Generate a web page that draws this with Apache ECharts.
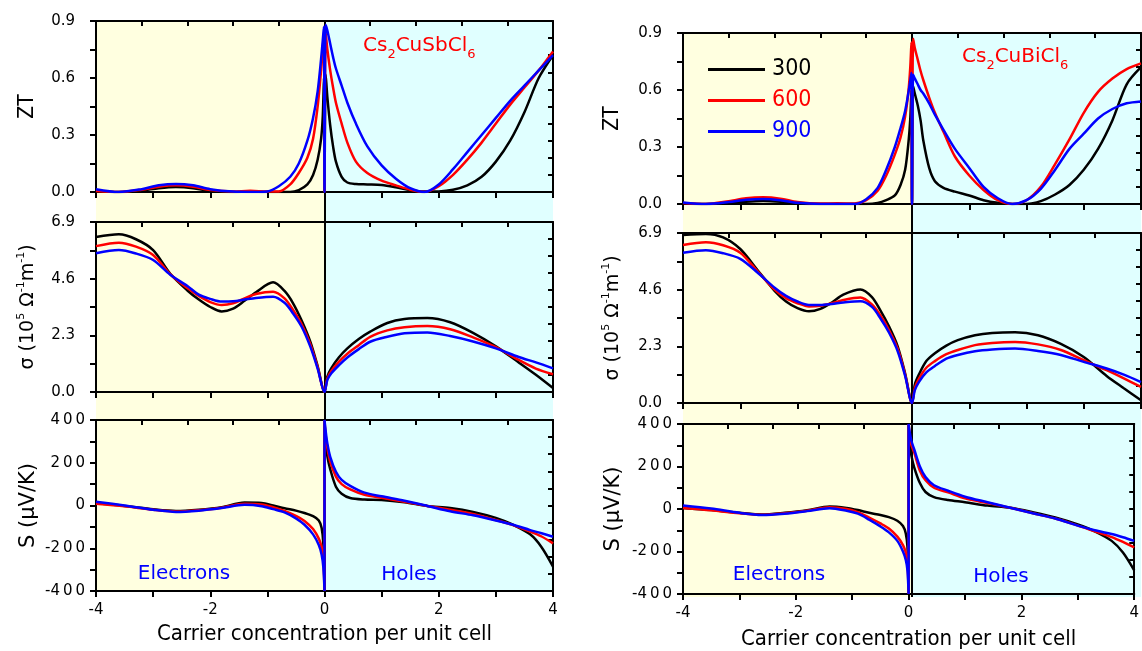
<!DOCTYPE html>
<html>
<head>
<meta charset="utf-8">
<title>Cs2CuSbCl6 / Cs2CuBiCl6</title>
<script src="https://cdn.jsdelivr.net/npm/echarts@6/dist/echarts.min.js"></script>
<style>
  html, body { margin: 0; padding: 0; background: #fff; }
  #chart { width: 1142px; height: 651px; }
</style>
</head>
<body>
<div id="chart"></div>
<script>
// ---- values ----
const temps = ['300', '600', '900'];
const colors = ['#000000', '#ff0000', '#0000ff'];

// ZT
const xZT = [-4, -3.6, -3.2, -2.9, -2.6, -2.3, -2.0, -1.6, -1.3, -1.0, -0.8, -0.6, -0.45, -0.3, -0.2, -0.12, -0.06, -0.03, -0.01,
  0, 0.02, 0.05, 0.1, 0.15, 0.2, 0.3, 0.4, 0.55, 0.75, 1.0, 1.25, 1.5, 1.75, 2.0, 2.25, 2.5, 2.75, 3.0, 3.25, 3.5, 3.75, 4.0];
const ztSb300 = [0.005, 0, 0.008, 0.02, 0.026, 0.02, 0.005, 0, 0.003, 0, 0, 0, 0.01, 0.04, 0.09, 0.17, 0.28, 0.4, 0.6,
  0, 0.62, 0.5, 0.35, 0.24, 0.16, 0.08, 0.05, 0.042, 0.04, 0.037, 0.025, 0.01, 0.002, 0.003, 0.012, 0.035, 0.08, 0.16, 0.27, 0.42, 0.6, 0.72];
const ztSb600 = [0.005, 0, 0.012, 0.028, 0.035, 0.028, 0.01, 0.003, 0.006, 0.003, 0.003, 0.04, 0.1, 0.18, 0.28, 0.45, 0.64, 0.76, 0.83,
  0, 0.84, 0.75, 0.64, 0.55, 0.47, 0.36, 0.26, 0.16, 0.1, 0.06, 0.035, 0.012, 0, 0.03, 0.09, 0.17, 0.26, 0.36, 0.46, 0.55, 0.64, 0.74];
const ztSb900 = [0.015, 0, 0.015, 0.035, 0.042, 0.035, 0.015, 0.002, 0, 0.003, 0.03, 0.08, 0.15, 0.27, 0.39, 0.53, 0.7, 0.8, 0.87,
  0, 0.88, 0.85, 0.78, 0.71, 0.65, 0.56, 0.47, 0.36, 0.24, 0.14, 0.07, 0.02, 0, 0.04, 0.12, 0.21, 0.3, 0.39, 0.48, 0.56, 0.64, 0.72];
const ztBi300 = [0.003, 0, 0.004, 0.012, 0.016, 0.012, 0.003, 0, 0, 0, 0, 0.005, 0.02, 0.045, 0.1, 0.18, 0.33, 0.45, 0.6,
  0, 0.62, 0.58, 0.52, 0.44, 0.33, 0.19, 0.12, 0.085, 0.065, 0.045, 0.02, 0.006, 0, 0, 0.015, 0.05, 0.1, 0.18, 0.29, 0.44, 0.63, 0.72];
const ztBi600 = [0.005, 0, 0.015, 0.03, 0.035, 0.028, 0.01, 0.002, 0.004, 0.002, 0.02, 0.07, 0.15, 0.26, 0.35, 0.46, 0.6, 0.72, 0.85,
  0, 0.87, 0.82, 0.76, 0.7, 0.65, 0.56, 0.48, 0.38, 0.25, 0.15, 0.074, 0.02, 0, 0.02, 0.09, 0.21, 0.34, 0.48, 0.59, 0.66, 0.71, 0.74];
const ztBi900 = [0.008, 0, 0.01, 0.022, 0.026, 0.02, 0.006, 0, 0, 0, 0.025, 0.085, 0.18, 0.3, 0.4, 0.49, 0.59, 0.65, 0.69,
  0, 0.68, 0.66, 0.63, 0.6, 0.58, 0.53, 0.47, 0.39, 0.29, 0.19, 0.09, 0.03, 0, 0.02, 0.08, 0.18, 0.29, 0.37, 0.45, 0.5, 0.53, 0.54];

// sigma (10^5 / ohm m)
const xSig = [-4, -3.6, -3.3, -3.0, -2.7, -2.4, -2.2, -2.0, -1.8, -1.6, -1.4, -1.2, -0.9, -0.7, -0.55, -0.4, -0.25, -0.12,
  0, 0.05, 0.12, 0.25, 0.4, 0.6, 0.8, 1.1, 1.4, 1.8, 2.2, 2.6, 3.0, 3.4, 3.7, 4.0];
const sigSb300 = [6.29, 6.4, 6.2, 5.76, 4.8, 4.12, 3.75, 3.45, 3.27, 3.38, 3.7, 4.05, 4.45, 4.1, 3.6, 2.9, 2.05, 1.05,
  0, 0.63, 0.97, 1.4, 1.77, 2.15, 2.45, 2.8, 2.96, 3.0, 2.83, 2.4, 1.85, 1.2, 0.7, 0.16];
const sigSb600 = [5.92, 6.06, 5.9, 5.56, 4.78, 4.22, 3.9, 3.65, 3.53, 3.6, 3.8, 3.98, 4.07, 3.8, 3.33, 2.75, 1.95, 1.0,
  0, 0.55, 0.85, 1.22, 1.55, 1.9, 2.24, 2.5, 2.63, 2.68, 2.55, 2.22, 1.82, 1.3, 0.95, 0.72];
const sigSb900 = [5.63, 5.76, 5.62, 5.36, 4.76, 4.3, 3.95, 3.78, 3.67, 3.68, 3.75, 3.82, 3.87, 3.62, 3.19, 2.65, 1.85, 0.95,
  0, 0.49, 0.76, 1.08, 1.4, 1.74, 2.04, 2.24, 2.38, 2.42, 2.27, 2.05, 1.77, 1.42, 1.2, 0.96];
const sigBi300 = [6.82, 6.86, 6.72, 6.25, 5.4, 4.55, 4.12, 3.85, 3.72, 3.82, 4.08, 4.4, 4.61, 4.3, 3.75, 3.1, 2.3, 1.2,
  0, 0.75, 1.15, 1.7, 2.02, 2.33, 2.55, 2.75, 2.84, 2.87, 2.75, 2.4, 1.87, 1.1, 0.6, 0.11];
const sigBi600 = [6.41, 6.52, 6.4, 6.1, 5.35, 4.6, 4.25, 4.05, 3.92, 3.95, 4.05, 4.18, 4.28, 4.0, 3.55, 2.95, 2.2, 1.15,
  0, 0.62, 0.98, 1.43, 1.7, 1.98, 2.15, 2.35, 2.44, 2.48, 2.38, 2.15, 1.74, 1.33, 1.0, 0.65];
const sigBi900 = [6.1, 6.2, 6.08, 5.85, 5.3, 4.68, 4.35, 4.12, 3.98, 3.98, 4.02, 4.08, 4.13, 3.9, 3.43, 2.85, 2.1, 1.1,
  0, 0.52, 0.85, 1.24, 1.5, 1.8, 1.95, 2.1, 2.17, 2.21, 2.11, 1.95, 1.67, 1.4, 1.15, 0.85];

// Seebeck (uV/K)
const xS = [-4, -3.5, -3.0, -2.6, -2.2, -1.8, -1.4, -1.1, -0.9, -0.7, -0.5, -0.35, -0.2, -0.1, -0.05, -0.02, 0,
  0, 0.02, 0.05, 0.1, 0.2, 0.3, 0.45, 0.7, 1.0, 1.4, 1.8, 2.2, 2.6, 3.0, 3.3, 3.6, 3.8, 4.0];
const sSb300 = [10, -2, -18, -26, -20, -8, 14, 12, 0, -13, -24, -35, -50, -70, -105, -180, -400,
  400, 300, 230, 170, 88, 55, 35, 28, 26, 15, -2, -12, -30, -58, -90, -135, -195, -286];
const sSb600 = [8, -4, -20, -28, -22, -10, 8, 5, -8, -25, -48, -72, -110, -155, -195, -250, -400,
  400, 330, 270, 205, 135, 100, 75, 50, 36, 18, -2, -20, -40, -68, -92, -122, -145, -177];
const sSb900 = [18, 0, -20, -30, -24, -12, 3, -3, -17, -32, -60, -90, -135, -185, -230, -290, -400,
  400, 350, 290, 228, 158, 120, 92, 60, 43, 22, -2, -27, -46, -70, -90, -115, -130, -146];
const sBi300 = [5, -5, -18, -26, -18, -6, 12, 5, -5, -18, -28, -38, -55, -80, -115, -180, -400,
  400, 300, 250, 195, 122, 80, 56, 42, 32, 16, 6, -15, -40, -73, -105, -150, -205, -289];
const sBi600 = [5, -6, -20, -27, -20, -8, 8, 0, -15, -40, -68, -92, -130, -170, -205, -255, -400,
  400, 340, 300, 265, 180, 135, 100, 78, 50, 28, 6, -20, -45, -78, -105, -132, -155, -181];
const sBi900 = [17, 2, -18, -28, -22, -10, 4, -8, -22, -50, -82, -110, -150, -200, -240, -290, -400,
  400, 360, 320, 280, 200, 150, 112, 86, 58, 32, 6, -20, -45, -78, -100, -118, -133, -150];

// tick labels shown on the axes
const xTickLabels = [-4, -2, 0, 2, 4];
const ztTickLabels = [0, 0.3, 0.6, 0.9];
const sigTickLabels = [0, 2.3, 4.6, 6.9];
const sTickLabels = [-400, -200, 0, 200, 400];

// ---- layout ----
const FONT = '"DejaVu Sans"';
const NARROW = '"DejaVu Sans Condensed", "DejaVu Sans"';

const cols = [
  { left: 96, width: 457, tops: [21, 222, 420], heights: [171, 170, 171], bgTop: 21, bgH: 570 },
  { left: 683, width: 458, tops: [33, 233, 424], heights: [171, 170, 173], bgTop: 33, bgH: 564 }
];

const has = (list, v) => list.some(t => Math.abs(t - v) < 1e-6);

const panels = [
  {
    x: xZT, ys: [[ztSb300, ztSb600, ztSb900], [ztBi300, ztBi600, ztBi900]],
    min: 0, max: 0.9, step: 0.15, rstep: 0.09, margin: 21,
    fmt: v => has(ztTickLabels, v) ? v.toFixed(1) : '',
    name: 'ZT', nameStyle: { fontFamily: NARROW, fontSize: 21 }, nameGap: 58
  },
  {
    x: xSig, ys: [[sigSb300, sigSb600, sigSb900], [sigBi300, sigBi600, sigBi900]],
    min: 0, max: 6.9, step: 1.15, rstep: 0.69, margin: 21,
    fmt: v => has(sigTickLabels, v) ? v.toFixed(1) : '',
    name: '{m|σ (10}{u|5}{m| Ω}{u|-1}{m|m}{u|-1}{m|)}',
    nameStyle: {
      fontFamily: FONT, fontSize: 19,
      rich: {
        m: { fontFamily: FONT, fontSize: 19, lineHeight: 24, color: '#000' },
        u: { fontFamily: FONT, fontSize: 11, lineHeight: 10, verticalAlign: 'top', color: '#000' }
      }
    },
    nameGap: 56
  },
  {
    x: xS, ys: [[sSb300, sSb600, sSb900], [sBi300, sBi600, sBi900]],
    min: -400, max: 400, step: 100, rstep: 80, margin: 11,
    fmt: v => has(sTickLabels, v) ? (v < 0 ? '-' : '') + String(Math.abs(v)).split('').join('\u2009') : '',
    name: 'S (μV/K)', nameStyle: { fontFamily: FONT, fontSize: 21 }, nameGap: 57
  }
];

const axisLine = { show: true, onZero: false, lineStyle: { color: '#000', width: 2 } };
const tickStyle = { color: '#000', width: 2 };

const grids = [], xAxes = [], yAxes = [], series = [];

cols.forEach((c, ci) => {
  // shaded electron / hole halves and the x = 0 line, spanning the whole column
  grids.push({ left: c.left, top: c.bgTop, width: c.width, height: c.bgH });
  xAxes.push({ type: 'value', gridIndex: grids.length - 1, min: -4, max: 4, show: false });
  yAxes.push({ type: 'value', gridIndex: grids.length - 1, min: 0, max: 1, show: false });
  series.push({
    type: 'line', xAxisIndex: xAxes.length - 1, yAxisIndex: yAxes.length - 1,
    data: [[0, 0]], symbol: 'none', lineStyle: { opacity: 0 }, silent: true, z: 0,
    markArea: {
      silent: true, z: 0,
      data: [
        [{ xAxis: -4, itemStyle: { color: '#ffffe0' } }, { xAxis: 0 }],
        [{ xAxis: 0, itemStyle: { color: '#e0ffff' } }, { xAxis: 4 }]
      ]
    },
    markLine: {
      silent: true, z: 3, symbol: 'none', label: { show: false },
      lineStyle: { color: '#000', width: 2, type: 'solid' },
      data: [{ xAxis: 0 }]
    }
  });

  panels.forEach((p, pi) => {
    const isBottom = pi === panels.length - 1;
    grids.push({ left: c.left, top: c.tops[pi], width: c.width, height: c.heights[pi] });
    const gi = grids.length - 1;
    const xb = xAxes.length;
    xAxes.push({
      type: 'value', gridIndex: gi, position: 'bottom', min: -4, max: 4, interval: 1, z: 2,
      axisLine, axisTick: { show: true, inside: false, length: 6, lineStyle: tickStyle },
      splitLine: { show: false },
      axisLabel: {
        show: isBottom, margin: 12, fontFamily: FONT, fontSize: 15, color: '#000',
        formatter: v => has(xTickLabels, v) ? String(v) : ''
      },
      name: isBottom ? 'Carrier concentration per unit cell' : '',
      nameLocation: 'middle', nameGap: 32 + ci * 2,
      nameTextStyle: { fontFamily: NARROW, fontSize: 22, color: '#000' }
    });
    xAxes.push({
      type: 'value', gridIndex: gi, position: 'top', min: -4, max: 4, interval: 0.8, z: 2,
      axisLine, axisTick: { show: true, inside: true, length: 5, lineStyle: tickStyle },
      axisLabel: { show: false }, splitLine: { show: false }
    });
    const yl = yAxes.length;
    yAxes.push({
      type: 'value', gridIndex: gi, position: 'left', min: p.min, max: p.max, interval: p.step, z: 2,
      axisLine, axisTick: { show: true, inside: false, length: 6, lineStyle: tickStyle },
      splitLine: { show: false },
      axisLabel: { margin: p.margin, fontFamily: FONT, fontSize: 15, color: '#000', formatter: p.fmt },
      name: p.name, nameLocation: 'middle', nameRotate: 90, nameGap: p.nameGap + ci * 2,
      nameTextStyle: Object.assign({ color: '#000' }, p.nameStyle)
    });
    yAxes.push({
      type: 'value', gridIndex: gi, position: 'right', min: p.min, max: p.max, interval: p.rstep, z: 2,
      axisLine, axisTick: { show: true, inside: true, length: 5, lineStyle: tickStyle },
      axisLabel: { show: false }, splitLine: { show: false }
    });
    p.ys[ci].forEach((ys, k) => {
      series.push({
        name: temps[k], type: 'line', xAxisIndex: xb, yAxisIndex: yl,
        data: p.x.map((x, i) => [x, ys[i]]),
        symbol: 'none', smooth: 0.3, z: 4, clip: true,
        lineStyle: { color: colors[k], width: 2.5 },
        itemStyle: { color: colors[k] }
      });
    });
  });
});

const sub = { fontFamily: FONT, fontSize: 13, lineHeight: 4, verticalAlign: 'bottom', fill: '#ff0000' };
const main = { fontFamily: FONT, fontSize: 20, lineHeight: 30, fill: '#ff0000' };
const blueText = { font: '20px "DejaVu Sans"', fill: '#0000ff', align: 'center', verticalAlign: 'middle' };

const chart = echarts.init(document.getElementById('chart'));
chart.setOption({
  animation: false,
  backgroundColor: '#ffffff',
  grid: grids,
  xAxis: xAxes,
  yAxis: yAxes,
  series: series,
  legend: {
    orient: 'vertical', left: 703, top: 53, icon: 'rect', itemWidth: 57, itemHeight: 3, itemGap: 8,
    textStyle: { fontFamily: NARROW, fontSize: 23, padding: [0, 0, 0, 2] },
    data: temps.map((t, k) => ({ name: t, textStyle: { color: colors[k] } }))
  },
  graphic: [
    { type: 'text', left: 363, top: 36, z: 10, style: { text: '{m|Cs}{s|2}{m|CuSbCl}{s|6}', rich: { m: main, s: sub } } },
    { type: 'text', left: 962, top: 47, z: 10, style: { text: '{m|Cs}{s|2}{m|CuBiCl}{s|6}', rich: { m: main, s: sub } } },
    { type: 'text', x: 184, y: 574, z: 10, style: Object.assign({ text: 'Electrons' }, blueText) },
    { type: 'text', x: 409, y: 575, z: 10, style: Object.assign({ text: 'Holes' }, blueText) },
    { type: 'text', x: 779, y: 575, z: 10, style: Object.assign({ text: 'Electrons' }, blueText) },
    { type: 'text', x: 1001, y: 577, z: 10, style: Object.assign({ text: 'Holes' }, blueText) }
  ]
});
</script>
</body>
</html>
